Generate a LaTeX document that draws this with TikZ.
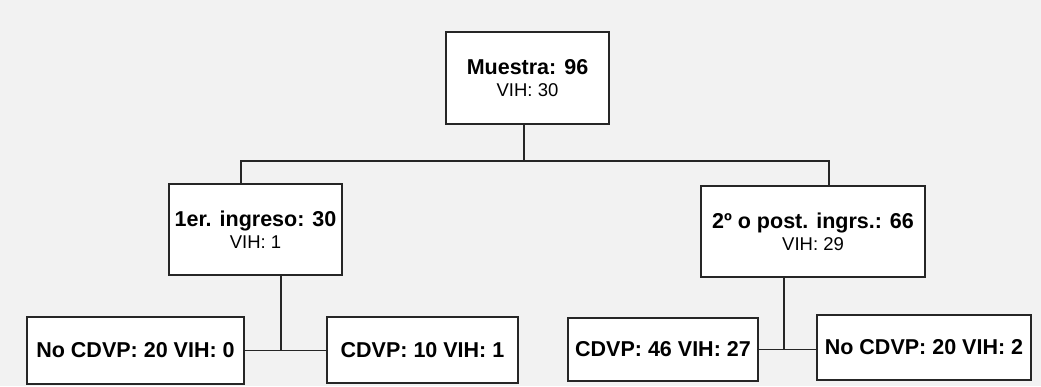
\documentclass[tikz,border=0pt]{standalone}
\usepackage{fontspec}
\setmainfont{Liberation Sans}
\usepackage{xcolor}
\usepackage{tikz}
\usetikzlibrary{positioning, arrows.meta}

\definecolor{paper}{gray}{0.95}
\definecolor{ink}{gray}{0.15}

\begin{document}
\begin{tikzpicture}[
        x=1pt, y=-1pt,
        box/.style={draw=ink, line width=1.4pt, fill=white, inner sep=0pt, outer sep=0pt, align=center, font=\fontsize{21.5}{22}\selectfont\bfseries},
        leaf/.style={box, minimum height=66pt},
        edge/.style={-, line width=1.4pt, ink}
    ]
    \useasboundingbox[fill=paper] (0,0) rectangle (1041,386);

    % Top
    \node[box, minimum width=163pt, minimum height=92pt] (muestra) at (527.5,78) {Muestra: 96\\{\fontsize{18.5}{22}\selectfont\mdseries VIH: 30}};

    % Middle row
    \node[box, minimum width=173pt, minimum height=91pt] (ingreso) at (255.5,229.5) {1er. ingreso: 30\\{\fontsize{18.5}{22}\selectfont\mdseries VIH: 1}};
    \node[box, minimum width=224pt, minimum height=91pt] (postingr) at (813,231.5) {2º o post. ingrs.: 66\\{\fontsize{18.5}{22}\selectfont\mdseries VIH: 29}};

    % Bottom row
    \node[leaf, minimum width=217pt, minimum height=67pt] (nocdvpa) at (135.5,350.5) {No CDVP: 20 VIH: 0};
    \node[leaf, minimum width=191pt] (cdvpa) at (422.5,350) {CDVP: 10 VIH: 1};
    \node[leaf, minimum width=190pt, minimum height=63pt] (cdvpb) at (663,349.5) {CDVP: 46 VIH: 27};
    \node[leaf, minimum width=214pt, minimum height=65pt] (nocdvpb) at (924,347.5) {No CDVP: 20 VIH: 2};

    % Split below the sample
    \coordinate (split) at (524,161);
    \draw[edge] ([xshift=-3.5pt]muestra.south) -- (split);
    \draw[edge] ([xshift=-14.5pt]ingreso.north) |- (split) -| ([xshift=16pt]postingr.north);

    % Left branch
    \draw[edge] (nocdvpa.east) -- (nocdvpa.east -| cdvpa.west);
    \draw[edge] ([xshift=25.5pt]ingreso.south) -- ([xshift=25.5pt]ingreso.south |- nocdvpa.east);

    % Right branch
    \draw[edge] (cdvpb.east) -- (cdvpb.east -| nocdvpb.west);
    \draw[edge] ([xshift=-29pt]postingr.south) -- ([xshift=-29pt]postingr.south |- cdvpb.east);

\end{tikzpicture}
\end{document}
